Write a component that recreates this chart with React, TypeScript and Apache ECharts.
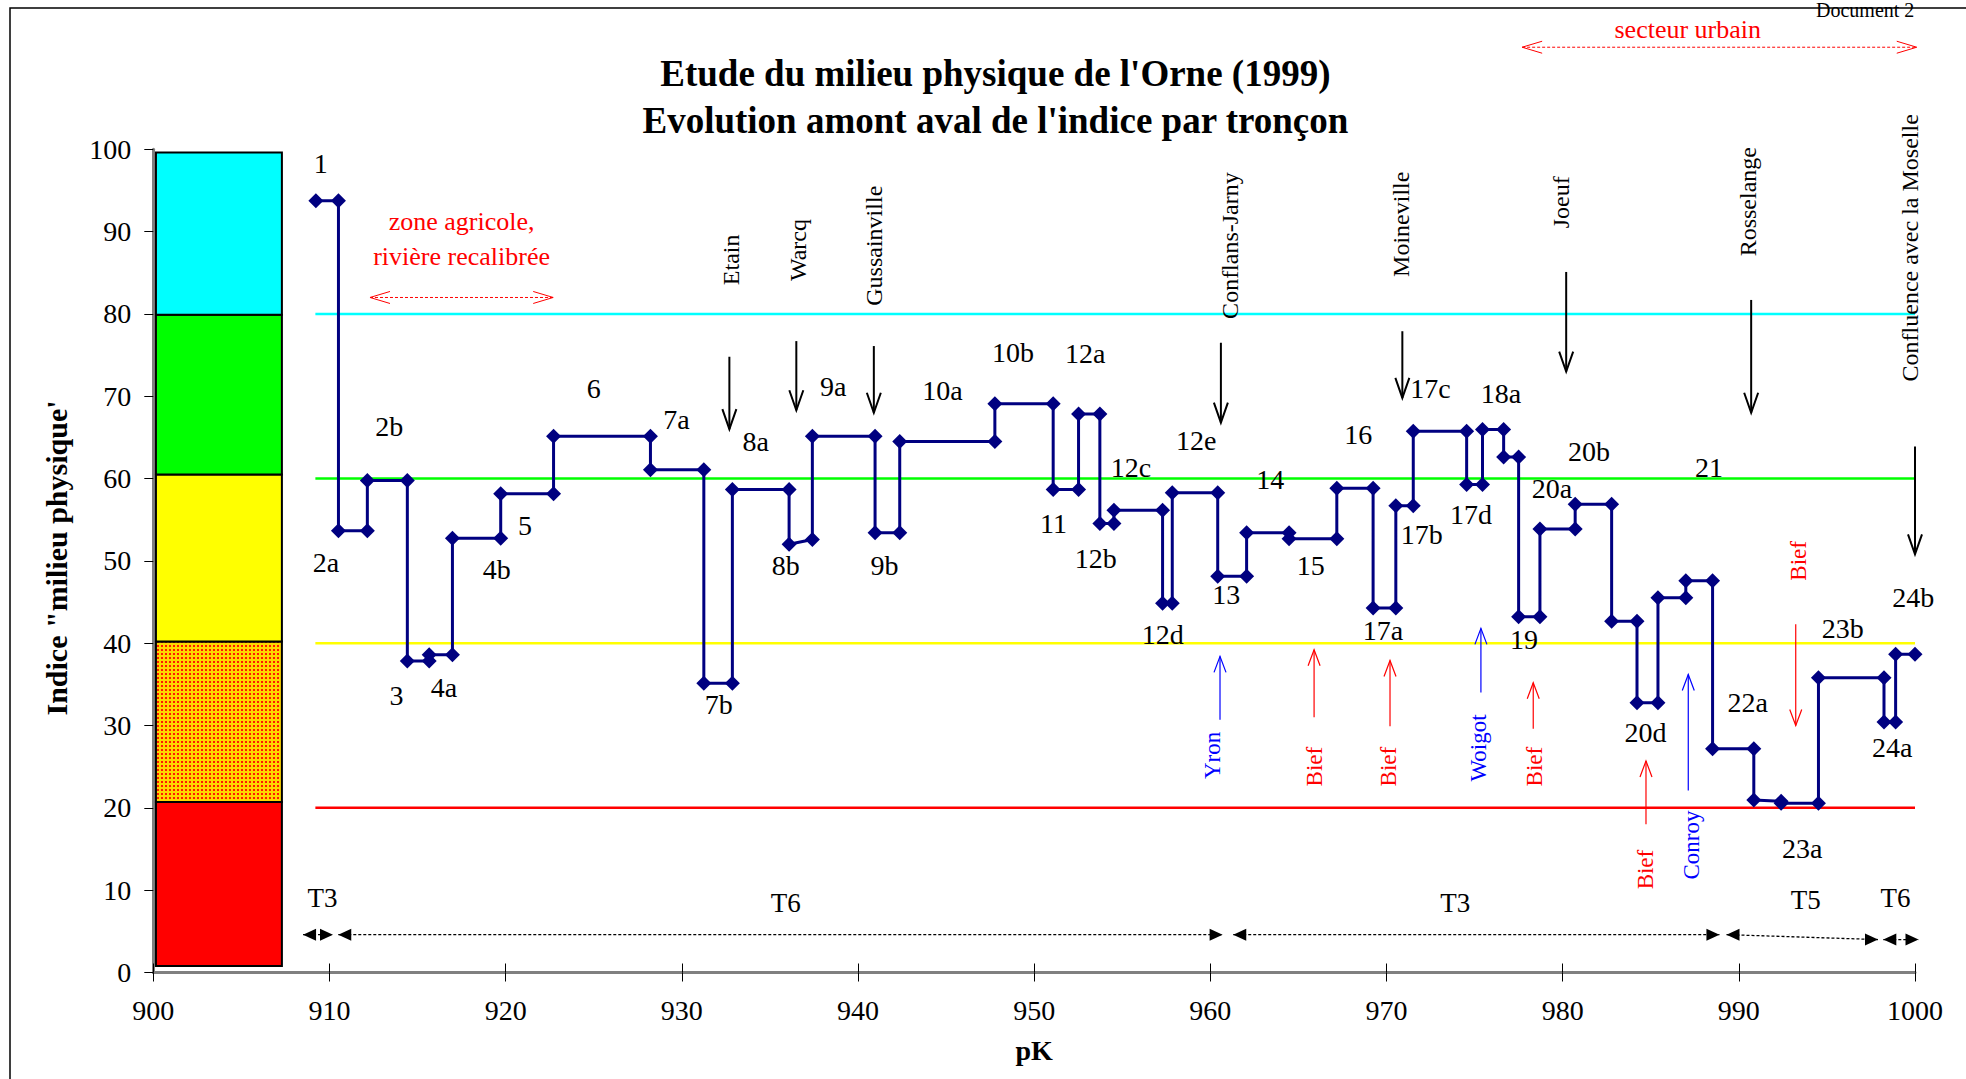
import React, { useEffect, useRef } from "react";
import * as echarts from "echarts";

// ---------- DATA ----------
const segNames = ["1","2a","2b","3","4a","4b","5","6","7a","7b","8a","8b","9a","9b","10a","10b","11","12a","12b","12c","12d","12e","13","14","15","16","17a","17b","17c","17d","18a","18b","19","20a","20b","20c","20d","20e","21","22a","22b","23a","23b","24a","24b"];
const segBreaks = [909.23,910.51,912.15,914.42,915.66,916.98,919.72,922.72,928.22,931.25,932.87,936.09,937.41,940.97,942.37,947.77,951.08,952.52,953.73,954.53,957.29,957.84,960.42,962.06,964.47,967.18,969.24,970.53,971.52,974.55,975.45,976.65,977.5,978.71,980.71,982.78,984.22,985.41,986.99,988.51,990.85,992.4,994.52,998.24,998.9,1000];
const segStartValues = [93.75,53.65,59.78,37.83,38.6,52.76,58.16,65.13,61.06,35.15,58.66,52.03,65.13,53.43,64.51,69.08,58.66,67.86,54.54,56.16,44.85,58.27,48.13,53.43,52.7,58.83,44.29,56.71,65.74,59.28,65.96,62.62,43.23,53.87,56.88,42.67,32.76,45.52,47.58,27.19,20.95,20.56,35.82,30.42,38.66];
const segEndValues = [93.75,53.65,59.78,37.83,38.6,52.76,58.16,65.13,61.06,35.15,58.66,52.59,65.13,53.43,64.51,69.08,58.66,67.86,54.54,56.16,44.85,58.27,48.13,53.43,52.7,58.83,44.29,56.71,65.74,59.28,65.96,62.62,43.23,53.87,56.88,42.67,32.76,45.52,47.58,27.19,20.8,20.56,35.82,30.42,38.66];

const segLabelText = ["1","2a","2b","3","4a","4b","5","6","7a","7b","8a","8b","9a","9b","10a","10b","11","12a","12b","12c","12d","12e","13","14","15","16","17a","17b","17c","17d","18a","19","20a","20b","20d","21","22a","23a","23b","24a","24b"];
const segLabelPk = [909.5,909.8,913.4,913.8,916.5,919.5,921.1,925.0,929.7,932.1,934.2,935.9,938.6,941.5,944.8,948.8,951.1,952.9,953.5,955.5,957.3,959.2,960.9,963.4,965.7,968.4,969.8,972.0,972.5,974.8,976.5,977.8,979.4,981.5,984.7,988.3,990.5,993.6,995.9,998.7,999.9];
const segLabelValue = [98.3,49.8,66.3,33.7,34.6,48.9,54.3,70.9,67.2,32.5,64.5,49.5,71.2,49.5,70.7,75.3,54.6,75.2,50.3,61.3,41.0,64.6,45.9,59.9,49.5,65.4,41.6,53.2,70.9,55.6,70.3,40.4,58.8,63.3,29.1,61.3,32.8,15.1,41.8,27.3,45.6];

const classLevels = [80, 60, 40, 20];
const classColors = ["#00ffff", "#00ff00", "#ffff00", "#ff0000"];
const classLineStartPk = 909.2;

const bandLow = [0.8, 20.7, 40.2, 60.5, 79.9];
const bandHigh = [20.7, 40.2, 60.5, 79.9, 99.6];
const bandColors = ["#ff0000", "dots", "#ffff00", "#00ff00", "#00ffff"];
const bandPkLeft = 900.15;
const bandPkRight = 907.3;

const townNames = ["Etain","Warcq","Gussainville","Conflans-Jarny","Moineville","Joeuf","Rosselange","Confluence avec la Moselle"];
const townTextPk = [932.8,936.6,940.9,961.1,970.8,979.9,990.5,999.7];
const townTextBase = [83.5,84.0,81.0,79.4,84.5,90.4,87.0,71.8];
const townArrowPk = [932.7,936.5,940.9,960.6,970.9,980.2,990.7,1000];
const townArrowTop = [74.8,76.7,76.1,76.5,77.9,85.1,81.7,63.9];
const townArrowBottom = [66.0,68.3,68.0,66.8,69.8,73.0,68.0,50.8];

const tribNames = ["Yron","Bief","Bief","Woigot","Bief","Bief","Conroy","Bief"];
const tribColors = ["#0000ff","#ff0000","#ff0000","#0000ff","#ff0000","#ff0000","#0000ff","#ff0000"];
const tribArrowPk = [960.55,965.89,970.2,975.36,978.33,984.73,987.13,993.23];
const tribArrowFrom = [30.7,31.0,29.9,34.0,29.6,18.0,22.1,42.3];
const tribArrowTo = [38.4,39.2,37.9,41.8,35.2,25.7,36.2,30.0];
const tribTextPk = [960.1,965.9,970.1,975.2,978.4,984.7,987.3,993.4];
const tribTextBase = [23.5,22.6,22.6,23.2,22.6,10.1,11.3,47.6];

const reachNames = ["T3","T6","T3","T5","T6"];
const reachLabelPk = [909.6,935.9,973.9,993.8,998.9];
const reachLabelValue = [9.0,8.4,8.4,8.8,9.0];
const reachStartPk = [908.5,910.5,961.3,989.3,998.2];
const reachEndPk = [910.2,960.7,988.9,997.9,1000.2];
const reachStartValue = [4.6,4.6,4.6,4.6,4.0];
const reachEndValue = [4.6,4.6,4.6,4.0,4.0];

const zoneLines = [["zone agricole,", "rivière recalibrée"], ["secteur urbain"]];
const zoneTextPk = [917.5, 987.1];
const zoneTextValue = [[91.2, 87.0], [114.5]];
const zoneArrowStart = [912.3, 977.7];
const zoneArrowEnd = [922.7, 1000.1];
const zoneArrowValue = [82.0, 112.4];

const titleLines = ["Etude du milieu physique de l'Orne (1999)", "Evolution amont aval de l'indice par tronçon"];
const titleCenterPk = 947.8;
const yAxisTitle = "Indice \"milieu physique'";
const xAxisTitle = "pK";

// ---------- HELPERS ----------
const SERIF = '"Liberation Serif", "Times New Roman", serif';

function txt(x: number, y: number, s: string, o: any = {}) {
  return {
    type: "text",
    x, y,
    rotation: o.rotation || 0,
    z: 20,
    style: {
      text: s,
      fill: o.color || "#000",
      fontSize: o.size || 28,
      fontFamily: SERIF,
      fontWeight: o.weight || "normal",
      align: o.align || "center",
      verticalAlign: o.valign || "middle",
    },
  };
}

function vArrow(x: number, y1: number, y2: number, color: string, lw: number, headLen: number, headHalf: number) {
  const dir = Math.sign(y2 - y1);
  return [
    { type: "line", z: 20, shape: { x1: x, y1, x2: x, y2 }, style: { stroke: color, lineWidth: lw } },
    { type: "polyline", z: 20, shape: { points: [[x - headHalf, y2 - dir * headLen], [x, y2], [x + headHalf, y2 - dir * headLen]] }, style: { stroke: color, lineWidth: lw, fill: null } },
  ];
}

function makeDots() {
  const c = document.createElement("canvas");
  c.width = 4; c.height = 4;
  const g = c.getContext("2d")!;
  g.fillStyle = "#ffd500"; g.fillRect(0, 0, 4, 4);
  g.fillStyle = "#ff1a00"; g.fillRect(1, 1, 2, 2);
  return { image: c, repeat: "repeat", imageWidth: 4, imageHeight: 4 };
}

export default function App() {
  const ref = useRef<HTMLDivElement>(null);

  useEffect(() => {
    document.body.style.margin = "0";
    const chart = echarts.init(ref.current!, null, { renderer: "svg" });

    const stepData: number[][] = [];
    segNames.forEach((_, i) => {
      stepData.push([segBreaks[i], segStartValues[i]]);
      stepData.push([segBreaks[i + 1], segEndValues[i]]);
    });

    const classSeries = classLevels.map((lv, i) => ({
      type: "line",
      data: [[classLineStartPk, lv], [1000, lv]],
      symbol: "none",
      lineStyle: { color: classColors[i], width: 2.5 },
      z: 1,
      silent: true,
    }));

    chart.setOption({
      animation: false,
      backgroundColor: "#ffffff",
      grid: { left: 153.3, right: 51, top: 149.3, bottom: 106.5, containLabel: false },
      xAxis: [
        {
          type: "value", min: 900, max: 1000, interval: 10, position: "bottom",
          axisLine: { show: true, lineStyle: { color: "#808080", width: 3 } },
          axisTick: { show: true, inside: true, length: 9, lineStyle: { color: "#000", width: 1 } },
          axisLabel: { color: "#000", fontSize: 28, fontFamily: SERIF, margin: 24, formatter: (v: number) => String(v) },
          splitLine: { show: false },
        },
        {
          type: "value", min: 900, max: 1000, interval: 10, position: "bottom",
          axisLine: { show: false },
          axisTick: { show: true, inside: false, length: 9, lineStyle: { color: "#000", width: 1 } },
          axisLabel: { show: false },
          splitLine: { show: false },
        },
      ],
      yAxis: {
        type: "value", min: 0, max: 100, interval: 10,
        axisLine: { show: true, lineStyle: { color: "#808080", width: 3 } },
        axisTick: { show: true, inside: false, length: 9, lineStyle: { color: "#000", width: 1 } },
        axisLabel: { color: "#000", fontSize: 28, fontFamily: SERIF, margin: 22, formatter: (v: number) => String(v) },
        splitLine: { show: false },
      },
      series: [
        ...classSeries,
        {
          type: "line",
          name: "Indice",
          data: stepData,
          symbol: "diamond",
          symbolSize: 15,
          itemStyle: { color: "#000080" },
          lineStyle: { color: "#000080", width: 3 },
          z: 5,
        },
      ],
    });

    const P = (x: number, y: number) => chart.convertToPixel({ xAxisIndex: 0, yAxisIndex: 0 }, [x, y]) as number[];
    const els: any[] = [];

    // page border + document mark
    els.push({ type: "rect", z: 0, shape: { x: 10, y: 8, width: 2000, height: 1200 }, style: { fill: null, stroke: "#000", lineWidth: 1.5 } });
    els.push(txt(1816, 0, "Document 2", { size: 20, align: "left", valign: "top" }));

    // band column
    const dots = makeDots();
    bandLow.forEach((lo, i) => {
      const a = P(bandPkLeft, bandHigh[i]);
      const b = P(bandPkRight, lo);
      els.push({
        type: "rect", z: 3,
        shape: { x: a[0], y: a[1], width: b[0] - a[0], height: b[1] - a[1] },
        style: { fill: bandColors[i] === "dots" ? (dots as any) : bandColors[i], stroke: "#000", lineWidth: 2 },
      });
    });

    // titles
    const tc = P(titleCenterPk, 0)[0];
    els.push(txt(tc, 73, titleLines[0], { size: 37, weight: "bold" }));
    els.push(txt(tc, 120, titleLines[1], { size: 37, weight: "bold" }));

    // axis titles
    const yMid = P(900, 50);
    els.push(txt(yMid[0] - 97, 558, yAxisTitle, { size: 30, weight: "bold", rotation: Math.PI / 2 }));
    els.push(txt(P(950, 0)[0], 1050, xAxisTitle, { size: 28, weight: "bold" }));

    // segment labels
    segLabelText.forEach((s, i) => {
      const p = P(segLabelPk[i], segLabelValue[i]);
      els.push(txt(p[0], p[1], s, { size: 28 }));
    });

    // towns
    townNames.forEach((s, i) => {
      const p = P(townTextPk[i], townTextBase[i]);
      els.push(txt(p[0], p[1], s, { size: 24, align: "left", rotation: Math.PI / 2 }));
      const t = P(townArrowPk[i], townArrowTop[i]);
      const b = P(townArrowPk[i], townArrowBottom[i]);
      els.push(...vArrow(t[0], t[1], b[1], "#000", 2, 20, 7));
    });

    // tributaries
    tribNames.forEach((s, i) => {
      const p = P(tribTextPk[i], tribTextBase[i]);
      els.push(txt(p[0], p[1], s, { size: 23, align: "left", rotation: Math.PI / 2, color: tribColors[i] }));
      const f = P(tribArrowPk[i], tribArrowFrom[i]);
      const t = P(tribArrowPk[i], tribArrowTo[i]);
      els.push(...vArrow(f[0], f[1], t[1], tribColors[i], 1.2, 16, 6));
    });

    // reaches
    reachNames.forEach((s, i) => {
      const lp = P(reachLabelPk[i], reachLabelValue[i]);
      els.push(txt(lp[0], lp[1], s, { size: 27 }));
      const a = P(reachStartPk[i], reachStartValue[i]);
      const b = P(reachEndPk[i], reachEndValue[i]);
      els.push({ type: "line", z: 20, shape: { x1: a[0], y1: a[1], x2: b[0], y2: b[1] }, style: { stroke: "#000", lineWidth: 1.3, lineDash: [3, 2] } });
      const hl = 13, hh = 6;
      els.push({ type: "polygon", z: 20, shape: { points: [[a[0], a[1]], [a[0] + hl, a[1] - hh], [a[0] + hl, a[1] + hh]] }, style: { fill: "#000" } });
      els.push({ type: "polygon", z: 20, shape: { points: [[b[0], b[1]], [b[0] - hl, b[1] - hh], [b[0] - hl, b[1] + hh]] }, style: { fill: "#000" } });
    });

    // zone annotations
    zoneLines.forEach((lines, i) => {
      lines.forEach((ln, j) => {
        const p = P(zoneTextPk[i], zoneTextValue[i][j]);
        els.push(txt(p[0], p[1], ln, { size: 26, color: "#ff0000" }));
      });
      const a = P(zoneArrowStart[i], zoneArrowValue[i]);
      const b = P(zoneArrowEnd[i], zoneArrowValue[i]);
      els.push({ type: "line", z: 20, shape: { x1: a[0], y1: a[1], x2: b[0], y2: b[1] }, style: { stroke: "#ff0000", lineWidth: 1, lineDash: [3, 2] } });
      els.push({ type: "polyline", z: 20, shape: { points: [[a[0] + 20, a[1] - 6], [a[0], a[1]], [a[0] + 20, a[1] + 6]] }, style: { stroke: "#ff0000", lineWidth: 1, fill: null } });
      els.push({ type: "polyline", z: 20, shape: { points: [[b[0] - 20, b[1] - 6], [b[0], b[1]], [b[0] - 20, b[1] + 6]] }, style: { stroke: "#ff0000", lineWidth: 1, fill: null } });
    });

    chart.setOption({ graphic: { elements: els } });

    return () => chart.dispose();
  }, []);

  return <div ref={ref} style={{ position: "absolute", left: 0, top: 0, width: 1966, height: 1079 }} />;
}
